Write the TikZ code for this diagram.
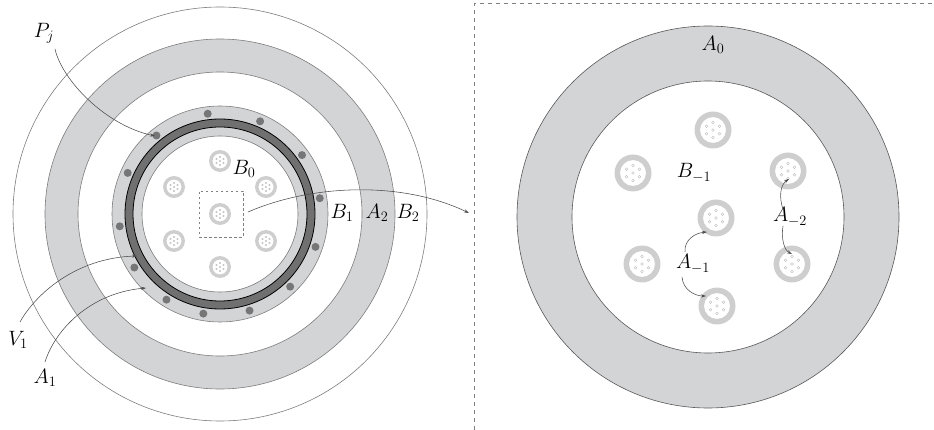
\documentclass[tikz,border=0pt]{standalone}
\usetikzlibrary{arrows.meta,calc}
\definecolor{bandgray}{RGB}{211,212,214}
\definecolor{ringgray}{RGB}{206,206,206}
\definecolor{darkring}{RGB}{112,112,112}
\definecolor{dotgray}{RGB}{118,118,118}
\definecolor{outl}{RGB}{125,125,125}
\definecolor{tinyc}{RGB}{185,185,185}
\newcommand{\cablecirc}[6]{%
  \begin{scope}[shift={(#1,#2)}]
    \fill[ringgray, even odd rule] (0,0) circle (#3pt) (0,0) circle (#4pt);
    \foreach \b in {30,90,...,330} {\draw[tinyc, line width=0.35pt] (\b:#5) circle (#6pt);}
    \draw[tinyc, line width=0.35pt] (0,0) circle (#6pt);
  \end{scope}}
\begin{document}
\begin{tikzpicture}[x=1pt,y=-1pt,
  lbl/.style={font=\huge, inner sep=0pt},
  outline/.style={draw=outl, line width=0.6pt},
  conn/.style={draw=black!70, line width=0.55pt, -{Stealth[length=5pt,width=3.2pt]}},
  framestyle/.style={draw=gray, line width=0.7pt, dash pattern=on 4pt off 4pt}]
\useasboundingbox (0,0) rectangle (934,430);
\coordinate (L) at (220,214);
\coordinate (R) at (708,217);
% ---------- left figure ----------
\draw[outline] (L) circle (207pt);
\fill[bandgray, even odd rule] (L) circle (175pt) (L) circle (142pt);
\draw[outline] (L) circle (175pt) (L) circle (142pt);
\fill[bandgray, even odd rule] (L) circle (108pt) (L) circle (78pt);
\draw[outline] (L) circle (108pt) (L) circle (78pt);
\fill[darkring, even odd rule] (L) circle (95pt) (L) circle (87pt);
\draw[black, line width=0.8pt] (L) circle (95pt) (L) circle (87pt);
\foreach \a in {129,97,66.6,35.7,9,-19,-46,-73,-99.5,-122,-148,-173,156}
  {\fill[dotgray] ($(L)+(-\a:101)$) circle (4pt);}
\cablecirc{220}{214}{11}{7.5}{4}{0.9}
\foreach \x/\y in {266/187,266/241,220/267,174/241,174/187,220/161}
  {\cablecirc{\x}{\y}{11}{7.5}{4}{0.9}}
\node[draw=gray, dash pattern=on 2.5pt off 2.5pt, line width=0.6pt, minimum width=44pt, minimum height=46pt, inner sep=0pt] (sq) at (221,214) {};
% ---------- frame ----------
\draw[framestyle] (474.5,430) -- (474.5,3) -- (934,3);
% ---------- right figure ----------
\fill[bandgray, even odd rule] (R) circle (191pt) (R) circle (136pt);
\draw[draw=black!65, line width=0.6pt] (R) circle (191pt) (R) circle (136pt);
\foreach \x/\y in {713/130,633/173,788/171,716/218,642/264,792/264,717/306}
  {\cablecirc{\x}{\y}{18.5}{13}{7.5}{1.4}}
% ---------- labels ----------
\node[lbl] (Pj) at (44,33) {$P_j$};
\node[lbl] (V1) at (18,340) {$V_1$};
\node[lbl] (A1) at (45,378) {$A_1$};
\node[lbl] (B0) at (244,169) {$B_0$};
\node[lbl] (B1) at (342,213) {$B_1$};
\node[lbl] (A2) at (377,213) {$A_2$};
\node[lbl] (B2) at (408,213) {$B_2$};
\node[lbl] (A0) at (713,45) {$A_0$};
\node[lbl] (Bm1) at (694,173) {$B_{-1}$};
\node[lbl] (Am1) at (693,264) {$A_{-1}$};
\node[lbl] (Am2) at (790,217) {$A_{-2}$};
% ---------- connector end points ----------
\coordinate (pjs) at (55,49);   \coordinate (pje) at (155,136);
\coordinate (v1s) at (20,322);  \coordinate (v1e) at (137,256);
\coordinate (a1s) at (45,362);  \coordinate (a1e) at (146,288);
\coordinate (zs) at (248,212);  \coordinate (ze) at (469,213);
\coordinate (m1a) at (685,252); \coordinate (m1ae) at (707,232);
\coordinate (m1b) at (682,277); \coordinate (m1be) at (706,296);
\coordinate (m2a) at (783,209); \coordinate (m2ae) at (789,179);
\coordinate (m2b) at (783,226); \coordinate (m2be) at (792,254);
% ---------- connectors ----------
\draw[conn] (pjs) .. controls (62,80) and (105,125) .. (pje);
\draw[conn] (v1s) .. controls (35,295) and (75,258) .. (v1e);
\draw[conn] (a1s) .. controls (55,330) and (90,293) .. (a1e);
\draw[conn] (zs) .. controls (310,185) and (400,180) .. (ze);
\draw[conn] (m1a) .. controls (684,240) and (695,233) .. (m1ae);
\draw[conn] (m1b) .. controls (683,290) and (695,296) .. (m1be);
\draw[conn] (m2a) .. controls (779,198) and (780,185) .. (m2ae);
\draw[conn] (m2b) .. controls (781,238) and (784,250) .. (m2be);
\end{tikzpicture}
\end{document}
